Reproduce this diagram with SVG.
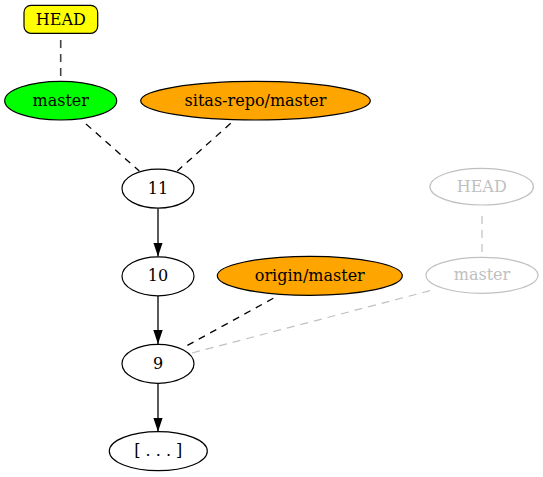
<svg xmlns="http://www.w3.org/2000/svg" width="543" height="477" viewBox="0 0 543 477">
<style>
text{font-family:"DejaVu Serif","Liberation Serif",serif;font-size:16px;text-anchor:middle}
.n{stroke:#000;stroke-width:1.2}
.g{fill:none;stroke:#c0c0c0;stroke-width:1.2}
.gt{fill:#c0c0c0}
.d{stroke:#000;stroke-width:1.3;stroke-dasharray:7,6;fill:none}
.dg{stroke:#444;stroke-width:1.6;stroke-dasharray:8,6;fill:none}
.lg{stroke:#c0c0c0;stroke-width:1.2;stroke-dasharray:8,6;fill:none}
.s{stroke:#000;stroke-width:1.3;fill:none}
</style>
<defs>
<marker id="a" markerWidth="14" markerHeight="9.4" refX="14" refY="4.7" orient="auto" markerUnits="userSpaceOnUse" viewBox="0 0 14 9.4">
<path d="M0,0 L14,4.7 L0,9.4 Z" fill="#000"/>
</marker>
</defs>
<g id="connectors">
<line class="dg" x1="60.7" y1="40" x2="60.7" y2="81"/>
<line class="d" x1="86" y1="124" x2="139.3" y2="171"/>
<line class="d" x1="230.7" y1="123.3" x2="177.3" y2="171"/>
<line class="s" x1="158" y1="208.5" x2="158" y2="256.5" marker-end="url(#a)"/>
<line class="s" x1="158" y1="296" x2="158" y2="344" marker-end="url(#a)"/>
<line class="s" x1="158" y1="383.5" x2="158" y2="431.7" marker-end="url(#a)"/>
<line class="d" x1="273.3" y1="298.3" x2="182.7" y2="348"/>
<line class="lg" x1="430" y1="290.7" x2="190.7" y2="353.3"/>
<line class="lg" x1="482" y1="216" x2="482" y2="257"/>
</g>
<g id="head">
<rect class="n" x="24" y="5.3" width="73.7" height="28" rx="7" fill="#ffff00"/>
<text x="60.8" y="24.6">HEAD</text>
</g>
<g id="master">
<ellipse class="n" cx="60.7" cy="100.7" rx="56" ry="19.3" fill="#00ff00"/>
<text x="60.7" y="105.5">master</text>
</g>
<g id="sitas-repo-master">
<ellipse class="n" cx="255.5" cy="100.7" rx="114.8" ry="19.3" fill="#ffa500"/>
<text x="255.5" y="105.5">sitas-repo/master</text>
</g>
<g id="c11">
<ellipse class="n" cx="158" cy="188.6" rx="36" ry="19.5" fill="#fff"/>
<text x="158" y="193.5">11</text>
</g>
<g id="head-grey">
<ellipse class="g" cx="481.7" cy="186.7" rx="51.7" ry="18.3"/>
<text class="gt" x="481.7" y="191.8">HEAD</text>
</g>
<g id="c10">
<ellipse class="n" cx="158" cy="276.3" rx="36" ry="19.5" fill="#fff"/>
<text x="158" y="281.2">10</text>
</g>
<g id="origin-master">
<ellipse class="n" cx="309.8" cy="275.8" rx="92.5" ry="19.5" fill="#ffa500"/>
<text x="309.8" y="280.7">origin/master</text>
</g>
<g id="master-grey">
<ellipse class="g" cx="482" cy="275.3" rx="56" ry="18"/>
<text class="gt" x="482" y="280.2">master</text>
</g>
<g id="c9">
<ellipse class="n" cx="158" cy="363.8" rx="36" ry="19.5" fill="#fff"/>
<text x="158" y="368.7">9</text>
</g>
<g id="more">
<ellipse class="n" cx="158.3" cy="451.2" rx="49" ry="19.5" fill="#fff"/>
<text x="158.3" y="456.1">[ . . . ]</text>
</g>
</svg>
